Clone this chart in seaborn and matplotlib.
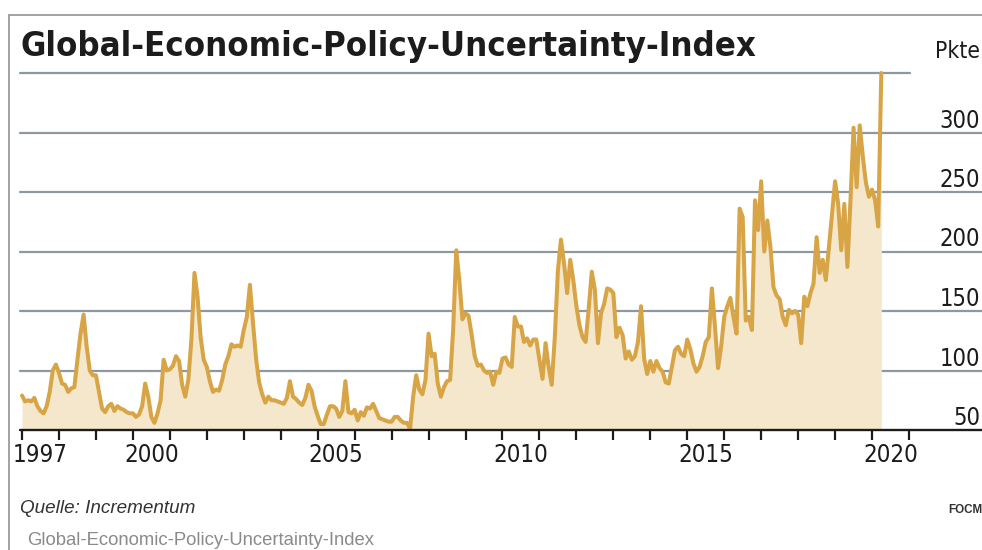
import numpy as np
import pandas as pd
import matplotlib
matplotlib.use("Agg")
import matplotlib.pyplot as plt
import matplotlib.transforms as mtrans
from matplotlib.lines import Line2D
from matplotlib import font_manager as fm
import seaborn as sns

# Monthly index values (points), January 1997 to April 2020
values_1997_2004 = [
    79, 74, 75, 74, 77, 70, 66, 64, 70, 82, 100, 105,      # 1997
    98, 89, 88, 82, 85, 86, 109, 131, 147, 120, 100, 96,   # 1998
    96, 82, 68, 65, 70, 72, 66, 70, 68, 67, 65, 64,        # 1999
    64, 61, 63, 70, 89, 78, 61, 56, 64, 75, 109, 100,      # 2000
    101, 104, 112, 108, 88, 78, 92, 126, 182, 162, 128, 109,  # 2001
    103, 91, 82, 84, 83, 92, 105, 112, 122, 120, 121, 120, # 2002
    134, 145, 172, 140, 110, 90, 80, 73, 78, 75, 75, 74,   # 2003
    73, 72, 77, 91, 78, 76, 73, 71, 77, 88, 83, 70,        # 2004
]
values_2005_2012 = [
    62, 55, 55, 63, 70, 70, 68, 61, 66, 91, 65, 64,        # 2005
    67, 58, 65, 62, 69, 68, 72, 66, 60, 59, 58, 57,        # 2006
    57, 61, 61, 58, 56, 56, 51, 78, 96, 84, 80, 92,        # 2007
    131, 112, 114, 89, 78, 86, 91, 92, 135, 201, 176, 143, # 2008
    148, 146, 130, 112, 104, 105, 100, 98, 99, 88, 99, 98, # 2009
    110, 111, 105, 103, 145, 137, 137, 124, 127, 121, 126, 126,  # 2010
    109, 93, 123, 103, 88, 128, 184, 210, 190, 165, 193, 176,    # 2011
    154, 138, 128, 124, 152, 183, 168, 123, 148, 156, 169, 168,  # 2012
]
values_2013_2020 = [
    165, 128, 136, 130, 110, 116, 109, 112, 124, 154, 110, 97,   # 2013
    108, 99, 108, 102, 99, 90, 89, 103, 117, 120, 114, 112,      # 2014
    126, 118, 106, 99, 103, 112, 124, 128, 169, 137, 102, 120,   # 2015
    145, 154, 161, 145, 131, 236, 229, 142, 145, 134, 243, 218,  # 2016
    259, 200, 226, 204, 170, 163, 160, 145, 138, 151, 148, 150,  # 2017
    147, 123, 162, 154, 165, 173, 212, 182, 193, 176, 204, 232,  # 2018
    259, 240, 201, 240, 187, 243, 304, 254, 306, 280, 258, 246,  # 2019
    252, 243, 221, 350,                                          # 2020
]
start_year = 1997

tick_years = list(range(1997, 2022))
label_years = [1997, 2000, 2005, 2010, 2015, 2020]
y_levels = [50, 100, 150, 200, 250, 300]
top_level = 350
unit_label = "Pkte"
title_text = "Global-Economic-Policy-Uncertainty-Index"
source_text = "Quelle: Incrementum"
brand_text = "FOCM"
caption_text = "Global-Economic-Policy-Uncertainty-Index"

LINE = "#D8A546"
FILL = "#F5E7CB"
GRID = "#8D98A1"
INK = "#1c1c1c"

values = np.array(values_1997_2004 + values_2005_2012 + values_2013_2020, dtype=float)
t = start_year + np.arange(len(values)) / 12.0
df = pd.DataFrame({"t": t, "v": values})

sns.set_theme(style="white")
plt.rcParams["font.family"] = ["DejaVu Sans"]

avail = {f.name for f in fm.fontManager.ttflist}
if "Liberation Sans Narrow" in avail:
    NARROW = dict(family="Liberation Sans Narrow")
else:
    NARROW = dict(family="DejaVu Sans", fontstretch="condensed")
PLAIN = "Liberation Sans" if "Liberation Sans" in avail else "DejaVu Sans"

W, H = 982, 550
fig = plt.figure(figsize=(W / 100, H / 100), dpi=100)
fig.patch.set_facecolor("white")

# plot area: 1997..2021 spans x = 22..909 px, 50..350 spans y = 430..73 px
ax_left, ax_right, ax_top, ax_bottom = 22, 909, 73, 430
ax = fig.add_axes([ax_left / W, (H - ax_bottom) / H,
                   (ax_right - ax_left) / W, (ax_bottom - ax_top) / H])
ax.set_facecolor("none")
ax.set_xlim(1997, 2021)
ax.set_ylim(50, 350)
for s in ax.spines.values():
    s.set_visible(False)

span = ax_right - ax_left
x0 = (20 - ax_left) / span
x_full = (W - ax_left) / span
x_top = (910 - ax_left) / span

for lvl in y_levels[1:]:
    ax.axhline(lvl, xmin=x0, xmax=x_full, color=GRID, lw=1.6, zorder=1, clip_on=False)
ax.axhline(top_level, xmin=x0, xmax=x_top, color=GRID, lw=1.6, zorder=1, clip_on=False)

ax.fill_between(df["t"], df["v"], 50, color=FILL, lw=0, zorder=2)
sns.lineplot(data=df, x="t", y="v", ax=ax, color=LINE, lw=2.9, zorder=4, sort=False)
for ln in ax.lines:
    ln.set_clip_on(False)
    ln.set_solid_joinstyle("round")

ax.axhline(50, xmin=x0, xmax=x_full, color=INK, lw=1.7, zorder=5, clip_on=False)

# year ticks at boundaries, labels centred in the year
ax.set_xticks(tick_years)
ax.set_xticklabels([])
ax.tick_params(axis="x", which="major", direction="out", length=7.5, width=1.6,
               color=INK, bottom=True)
ax.set_xticks([y + 0.5 for y in label_years], minor=True)
ax.set_xticklabels([str(y) for y in label_years], minor=True)
ax.tick_params(axis="x", which="minor", length=0, pad=9, labelsize=21, labelcolor=INK)
for lab in ax.get_xticklabels(minor=True):
    lab.set_family(NARROW["family"])
    if "fontstretch" in NARROW:
        lab.set_stretch("condensed")
ax.set_yticks([])
ax.set_xlabel("")
ax.set_ylabel("")

# value labels sit just above their gridlines, right-aligned at the edge
lab_tr = mtrans.offset_copy(mtrans.blended_transform_factory(fig.transFigure, ax.transData),
                            fig=fig, x=0, y=5, units="dots")
ylabs = []
for lvl in y_levels:
    ylabs.append(fig.text(980 / W, lvl, str(lvl), transform=lab_tr, ha="right",
                          va="baseline", fontsize=17, color=INK, **NARROW))
pkte = fig.text(980 / W, 1 - 58 / H, unit_label, ha="right", va="baseline",
                fontsize=17, color=INK, **NARROW)

title = fig.text(20 / W, 1 - 56 / H, title_text, ha="left", va="baseline",
                 fontsize=26, fontweight="bold", color=INK, **NARROW)
source = fig.text(20 / W, 1 - 513 / H, source_text, ha="left", va="baseline",
                  fontsize=12, style="italic", color="#333333", family=PLAIN)
brand = fig.text(948 / W, 1 - 513 / H, brand_text, ha="left", va="baseline",
                 fontsize=7.5, fontweight="bold", color="#333333", family=PLAIN)
caption = fig.text(27 / W, 1 - 545 / H, caption_text, ha="left", va="baseline",
                   fontsize=11, color="#8a8a8a", family=PLAIN)

# frame around the graphic
frame_y = 1 - 15 / H
fig.add_artist(Line2D([9 / W, 1.0], [frame_y, frame_y], transform=fig.transFigure,
                      color="#9b9b9b", lw=1.3))
fig.add_artist(Line2D([9 / W, 9 / W], [frame_y, 0.0], transform=fig.transFigure,
                      color="#9b9b9b", lw=1.3))

# size the texts to their measured widths
fig.canvas.draw()
rend = fig.canvas.get_renderer()

def fit(txt, target):
    w = txt.get_window_extent(rend).width
    txt.set_fontsize(txt.get_fontsize() * target / w)

fit(title, 735)
fit(source, 175)
fit(caption, 345)
fit(brand, 34)
fit(pkte, 45)
ref = ylabs[0]
fs50 = ref.get_fontsize() * 27 / ref.get_window_extent(rend).width
for t_ in ylabs:
    t_.set_fontsize(fs50)
xl = ax.get_xticklabels(minor=True)[1]
fsx = xl.get_fontsize() * 55 / xl.get_window_extent(rend).width
ax.tick_params(axis="x", which="minor", labelsize=fsx)

fig.savefig("out.png", dpi=100, facecolor="white")
